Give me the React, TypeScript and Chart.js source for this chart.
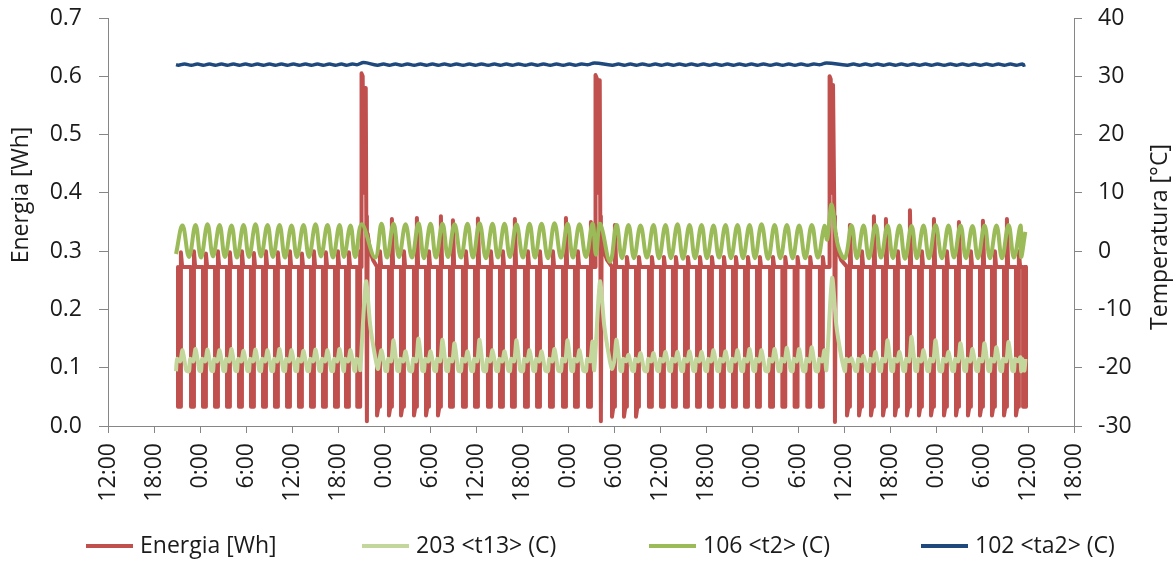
import React, { useEffect, useRef } from "react";
import { Chart, registerables } from "chart.js";

Chart.register(...registerables);

// ---------------- data (time in hours after 12:00 of the first day) ----------------
const xTickLabels = [
  "12:00", "18:00", "0:00", "6:00", "12:00", "18:00", "0:00", "6:00", "12:00", "18:00", "0:00",
  "6:00", "12:00", "18:00", "0:00", "6:00", "12:00", "18:00", "0:00", "6:00", "12:00", "18:00",
];

const seriesNames = ["Energia [Wh]", "203 <t13> (C)", "106 <t2> (C)", "102 <ta2> (C)"];
const leftTitle = "Energia [Wh]";
const rightTitle = "Temperatura [°C]";

// start time of every compressor cycle (red block)
const cycleStart = [
  8.87, 10.57, 12.13, 13.7, 15.26, 16.83, 18.39, 19.96, 21.52, 23.09, 24.65, 26.22, 27.78, 29.35, 30.78, 32.25,
  34.83, 36.39, 37.96, 39.65, 41.22, 42.78, 44.35, 46.04, 47.61, 49.3, 50.87, 52.43, 54.13, 55.7, 57.39, 59.09, 60.65, 62.35,
  65.48, 67.04, 68.61, 70.3, 71.87, 73.43, 75.0, 76.57, 78.13, 79.7, 81.26, 82.83, 84.39, 86.1, 87.7, 89.3, 90.95, 92.6,
  96.13, 97.7, 99.26, 100.83, 102.39, 103.96, 105.52, 107.09, 108.78, 110.35, 111.91, 113.48, 115.04, 116.61, 118.17, 119.1,
];
const dataEnd = 119.7;

// Energia [Wh]
const energiaLevel = 0.273;
const energiaFloor = 0.033;
const energiaDip = [
  0.033, 0.033, 0.033, 0.033, 0.033, 0.033, 0.033, 0.033, 0.033, 0.033, 0.033, 0.033, 0.033, 0.033, 0.033, 0.033,
  0.018, 0.018, 0.018, 0.018, 0.018, 0.018, 0.033, 0.033, 0.033, 0.033, 0.033, 0.033, 0.033, 0.033, 0.033, 0.033, 0.033, 0.033,
  0.016, 0.016, 0.016, 0.033, 0.033, 0.033, 0.033, 0.033, 0.033, 0.033, 0.033, 0.033, 0.033, 0.033, 0.033, 0.033, 0.033, 0.033,
  0.018, 0.018, 0.018, 0.018, 0.018, 0.018, 0.018, 0.018, 0.018, 0.018, 0.018, 0.018, 0.018, 0.018, 0.018, 0.033,
];
const energiaTip = [
  0.298, 0.3, 0.296, 0.3, 0.298, 0.3, 0.297, 0.3, 0.298, 0.3, 0.296, 0.3, 0.298, 0.3, 0.298, 0.3,
  0.3, 0.355, 0.3, 0.357, 0.3, 0.36, 0.353, 0.3, 0.356, 0.3, 0.3, 0.355, 0.3, 0.3, 0.3, 0.357, 0.3, 0.35,
  0.345, 0.29, 0.29, 0.29, 0.29, 0.29, 0.29, 0.29, 0.29, 0.29, 0.29, 0.29, 0.29, 0.29, 0.29, 0.29, 0.29, 0.29,
  0.345, 0.3, 0.36, 0.355, 0.3, 0.37, 0.3, 0.355, 0.3, 0.35, 0.3, 0.352, 0.3, 0.355, 0.3, 0.273,
];
const defrostAt = [33.07, 63.59, 94.12];
const energiaDefrostPeak = [0.605, 0.602, 0.6];
const energiaDefrostShoulder = [0.58, 0.593, 0.585];
const energiaDefrostDip = [0.008, 0.008, 0.007];

// 106 <t2> (C)
const t2Trough = [
  -0.5, -1.0, -1.1, -0.9, -1.0, -1.1, -1.0, -0.9, -1.0, -1.1, -1.0, -1.0, -0.9, -1.1, -1.0, -1.0,
  -1.1, -1.1, -1.0, -1.1, -1.2, -1.1, -1.0, -1.1, -1.1, -1.2, -1.1, -1.0, -1.1, -1.1, -1.2, -1.1, -1.1, -1.0,
  -1.8, -1.2, -1.2, -1.1, -1.2, -1.2, -1.3, -1.2, -1.2, -1.1, -1.2, -1.2, -1.2, -1.3, -1.2, -1.2, -1.2, -1.1,
  -1.2, -1.2, -1.2, -1.1, -1.2, -1.3, -1.2, -1.2, -1.2, -1.1, -1.2, -1.2, -1.2, -1.2, -1.1, -1.0,
];
const t2Peak = [
  4.4, 4.5, 4.6, 4.5, 4.4, 4.5, 4.6, 4.5, 4.5, 4.4, 4.5, 4.6, 4.5, 4.5, 4.4, 4.6,
  4.7, 4.7, 4.6, 4.8, 4.7, 4.7, 4.6, 4.7, 4.8, 4.7, 4.7, 4.6, 4.7, 4.7, 4.8, 4.7, 4.6, 4.7,
  4.5, 4.5, 4.4, 4.5, 4.5, 4.6, 4.5, 4.5, 4.4, 4.5, 4.5, 4.5, 4.6, 4.5, 4.5, 4.4, 4.5, 4.3,
  4.4, 4.4, 4.5, 4.4, 4.4, 4.3, 4.4, 4.5, 4.4, 4.4, 4.3, 4.4, 4.4, 4.5, 4.4, 4.4,
];
const t2ExtraTime = [63.65, 64.2, 93.8, 94.4, 95.2];
const t2ExtraValue = [-0.6, 4.7, 2.0, 8.0, 1.0];
const t2EndValue = 3.3;

// 203 <t13> (C)
const t13Base = -20.6;
const t13Hump = -18.5;
const t13HumpLow = -18.9;
const t13Peak = [
  -17.0, -16.8, -16.9, -17.0, -16.8, -17.1, -16.9, -17.0, -16.8, -17.0, -17.1, -16.9, -17.0, -16.8, -17.0, -17.5,
  -17.0, -15.3, -17.2, -15.0, -17.2, -15.2, -15.8, -17.2, -15.2, -17.0, -17.2, -15.3, -17.0, -17.2, -16.8, -15.3, -17.0, -15.5,
  -15.2, -17.8, -17.5, -17.5, -17.3, -17.3, -17.2, -17.3, -17.0, -17.2, -17.0, -16.8, -17.0, -16.8, -16.6, -16.8, -16.5, -17.0,
  -18.4, -18.0, -17.3, -15.3, -17.3, -14.7, -17.0, -15.3, -17.3, -15.8, -16.8, -15.8, -16.5, -15.6, -18.2, -19.0,
];
const t13DefrostAt = [33.65, 64.17, 94.45];
const t13DefrostPeak = [-5.2, -5.2, -4.6];
const t13EndValue = -18.5;

// 102 <ta2> (C)
const ta2Low = [
  31.9, 31.9, 31.9, 31.9, 31.9, 31.9, 31.9, 31.9, 31.9, 31.9, 31.9, 31.9, 31.9, 31.9, 31.9, 32.0,
  31.9, 31.9, 31.9, 31.9, 31.9, 31.9, 31.9, 31.9, 31.9, 31.9, 31.9, 31.9, 31.9, 31.9, 31.9, 31.9, 31.9, 32.0,
  31.9, 31.9, 31.9, 31.9, 31.9, 31.9, 31.9, 31.9, 31.9, 31.9, 31.9, 31.9, 31.9, 31.9, 31.9, 31.9, 31.9, 32.0,
  31.9, 31.9, 31.9, 31.9, 31.9, 31.9, 31.9, 31.9, 31.9, 31.9, 31.9, 31.9, 31.9, 31.9, 31.9, 31.9,
];
const ta2High = [
  32.1, 32.1, 32.1, 32.1, 32.1, 32.1, 32.1, 32.1, 32.1, 32.1, 32.1, 32.1, 32.1, 32.1, 32.1, 32.35,
  32.1, 32.1, 32.1, 32.1, 32.1, 32.1, 32.1, 32.1, 32.1, 32.1, 32.1, 32.1, 32.1, 32.1, 32.1, 32.1, 32.1, 32.3,
  32.1, 32.1, 32.1, 32.1, 32.1, 32.1, 32.1, 32.1, 32.1, 32.1, 32.1, 32.1, 32.1, 32.1, 32.1, 32.1, 32.1, 32.3,
  32.1, 32.1, 32.1, 32.1, 32.1, 32.1, 32.1, 32.1, 32.1, 32.1, 32.1, 32.1, 32.1, 32.1, 32.1, 32.0,
];

// ---------------- styles ----------------
const FONT = "'Open Sans', 'DejaVu Sans', sans-serif";
const FONT_SIZE = 23;
const AXIS = "#868686";
const TEXT = "#1b1b1b";
const colors = ["#C0504D", "#C3D69B", "#9BBB59", "#1F497D"];
const legendX = [86, 362, 649, 921];
const legendY = 546;

type P = { x: number; y: number };
const pt = (x: number, y: number): P => ({ x, y });

function buildEnergia(): P[] {
  const events = [
    ...cycleStart.map((t, i) => ({ t, kind: 0, i })),
    ...defrostAt.map((t, i) => ({ t, kind: 1, i })),
  ].sort((a, b) => a.t - b.t);
  const pts: P[] = [];
  for (const e of events) {
    const s = e.t;
    const i = e.i;
    if (e.kind === 0) {
      pts.push(
        pt(s + 0.26, energiaLevel),
        pt(s + 0.26, energiaDip[i]),
        pt(s + 0.44, energiaFloor),
        pt(s + 0.44, energiaLevel),
        pt(s + 0.64, energiaLevel),
        pt(s + 0.64, energiaFloor),
        pt(s + 0.64, energiaTip[i]),
        pt(s + 0.8, energiaLevel)
      );
    } else {
      pts.push(
        pt(s, energiaLevel),
        pt(s, energiaDefrostPeak[i]),
        pt(s + 0.15, energiaDefrostPeak[i] - 0.005),
        pt(s + 0.28, 0.4),
        pt(s + 0.45, energiaDefrostShoulder[i]),
        pt(s + 0.55, energiaDefrostShoulder[i]),
        pt(s + 0.62, 0.36),
        pt(s + 0.7, energiaDefrostDip[i]),
        pt(s + 0.8, 0.33),
        pt(s + 1.1, 0.3),
        pt(s + 1.5, 0.285)
      );
    }
  }
  return pts.filter((p) => p.x <= dataEnd + 0.2);
}

function buildT2(): P[] {
  const pts: P[] = [];
  cycleStart.forEach((s, i) => {
    pts.push(pt(s, t2Trough[i]), pt(s + 0.85, t2Peak[i]));
  });
  t2ExtraTime.forEach((t, i) => pts.push(pt(t, t2ExtraValue[i])));
  const out = pts.filter((p) => p.x < dataEnd - 0.05);
  out.push(pt(dataEnd - 0.05, t2EndValue));
  return out.sort((a, b) => a.x - b.x);
}

function buildT13(): P[] {
  const win = (x: number) => t13DefrostAt.some((t) => x >= t - 0.8 && x <= t + 1.6);
  const pts: P[] = [];
  cycleStart.forEach((s, i) => {
    [
      pt(s, t13Base),
      pt(s + 0.15, t13Hump),
      pt(s + 0.55, t13HumpLow),
      pt(s + 0.85, t13Peak[i]),
      pt(s + 1.35, t13Base + 0.1),
    ].forEach((p) => {
      if (!win(p.x)) pts.push(p);
    });
  });
  t13DefrostAt.forEach((t, i) => {
    pts.push(
      pt(t - 0.75, -20.4),
      pt(t, t13DefrostPeak[i]),
      pt(t + 0.55, -12.7),
      pt(t + 1.15, -17.8),
      pt(t + 1.55, -20.2)
    );
  });
  const out = pts.filter((p) => p.x < dataEnd - 0.05);
  out.push(pt(dataEnd - 0.05, t13EndValue));
  return out.sort((a, b) => a.x - b.x);
}

function buildTa2(): P[] {
  const pts: P[] = [pt(cycleStart[0], 32.0)];
  cycleStart.forEach((s, i) => {
    pts.push(pt(s + 0.3, ta2Low[i]), pt(s + 1.1, ta2High[i]));
  });
  const out = pts.filter((p) => p.x < dataEnd - 0.05);
  out.push(pt(dataEnd - 0.05, 32.0));
  return out;
}

const decor = {
  id: "decor",
  afterDraw(chart: any) {
    const ctx = chart.ctx as CanvasRenderingContext2D;
    ctx.save();
    ctx.font = `${FONT_SIZE}px ${FONT}`;
    ctx.fillStyle = TEXT;
    ctx.textAlign = "center";
    ctx.textBaseline = "middle";
    ctx.save();
    ctx.translate(21, 195);
    ctx.rotate(-Math.PI / 2);
    ctx.fillText(leftTitle, 0, 0);
    ctx.restore();
    ctx.save();
    ctx.translate(1160, 237);
    ctx.rotate(-Math.PI / 2);
    ctx.fillText(rightTitle, 0, 0);
    ctx.restore();
    // legend
    ctx.textAlign = "left";
    chart.data.datasets.forEach((ds: any, i: number) => {
      const x = legendX[i];
      ctx.strokeStyle = ds.borderColor;
      ctx.lineWidth = 4;
      ctx.lineCap = "butt";
      ctx.beginPath();
      ctx.moveTo(x, legendY);
      ctx.lineTo(x + 47, legendY);
      ctx.stroke();
      ctx.fillStyle = TEXT;
      ctx.fillText(ds.label, x + 54, legendY);
    });
    ctx.restore();
  },
};

export default function App() {
  const ref = useRef<HTMLCanvasElement>(null);
  useEffect(() => {
    const canvas = ref.current;
    if (!canvas) return;
    const tickFont = { family: FONT, size: FONT_SIZE };
    const fixY = (w: number) => (s: any) => {
      s.width = w;
      s.paddingTop = 0;
      s.paddingBottom = 0;
    };
    const chart = new Chart(canvas, {
      type: "line",
      data: {
        datasets: [
          {
            label: seriesNames[0],
            data: buildEnergia(),
            borderColor: colors[0],
            backgroundColor: colors[0],
            borderWidth: 4,
            tension: 0,
            yAxisID: "y",
            order: 4,
          },
          {
            label: seriesNames[1],
            data: buildT13(),
            borderColor: colors[1],
            backgroundColor: colors[1],
            borderWidth: 4,
            tension: 0.25,
            yAxisID: "y1",
            order: 3,
          },
          {
            label: seriesNames[2],
            data: buildT2(),
            borderColor: colors[2],
            backgroundColor: colors[2],
            borderWidth: 4,
            tension: 0.4,
            yAxisID: "y1",
            order: 2,
          },
          {
            label: seriesNames[3],
            data: buildTa2(),
            borderColor: colors[3],
            backgroundColor: colors[3],
            borderWidth: 3.5,
            tension: 0.4,
            yAxisID: "y1",
            order: 1,
          },
        ],
      } as any,
      options: {
        responsive: false,
        animation: false,
        devicePixelRatio: 1,
        parsing: false as any,
        normalized: true,
        layout: { padding: { top: 18, left: 0, right: 0, bottom: 53 } },
        elements: {
          point: { radius: 0 },
          line: { borderJoinStyle: "round", fill: false },
        },
        plugins: {
          legend: { display: false },
          tooltip: { enabled: false },
          title: { display: false },
        },
        scales: {
          x: {
            type: "linear",
            min: 0,
            max: 126,
            afterFit: (s: any) => {
              s.height = 98;
            },
            ticks: {
              stepSize: 6,
              autoSkip: false,
              minRotation: 90,
              maxRotation: 90,
              padding: 10,
              color: TEXT,
              font: tickFont,
              callback: (_v: any, i: number) => xTickLabels[i],
            },
            grid: { drawOnChartArea: false, drawTicks: true, tickLength: 7, color: AXIS },
            border: { display: true, color: AXIS, width: 1 },
          },
          y: {
            type: "linear",
            position: "left",
            min: 0,
            max: 0.7,
            afterFit: fixY(108),
            ticks: {
              stepSize: 0.1,
              padding: 17,
              color: TEXT,
              font: tickFont,
              callback: (v: any) => Number(v).toFixed(1),
            },
            grid: { drawOnChartArea: false, drawTicks: true, tickLength: 9, color: AXIS },
            border: { display: true, color: AXIS, width: 1 },
          },
          y1: {
            type: "linear",
            position: "right",
            min: -30,
            max: 40,
            afterFit: fixY(102),
            ticks: {
              stepSize: 10,
              padding: 16,
              color: TEXT,
              font: tickFont,
              callback: (v: any) => String(Math.round(Number(v))),
            },
            grid: { drawOnChartArea: false, drawTicks: true, tickLength: 8, color: AXIS },
            border: { display: true, color: AXIS, width: 1 },
          },
        },
      } as any,
      plugins: [decor as any],
    });
    return () => chart.destroy();
  }, []);
  return (
    <div style={{ position: "absolute", left: 0, top: 0, width: 1176, height: 577, background: "#ffffff" }}>
      <canvas ref={ref} width={1176} height={577} style={{ display: "block", width: 1176, height: 577 }} />
    </div>
  );
}
